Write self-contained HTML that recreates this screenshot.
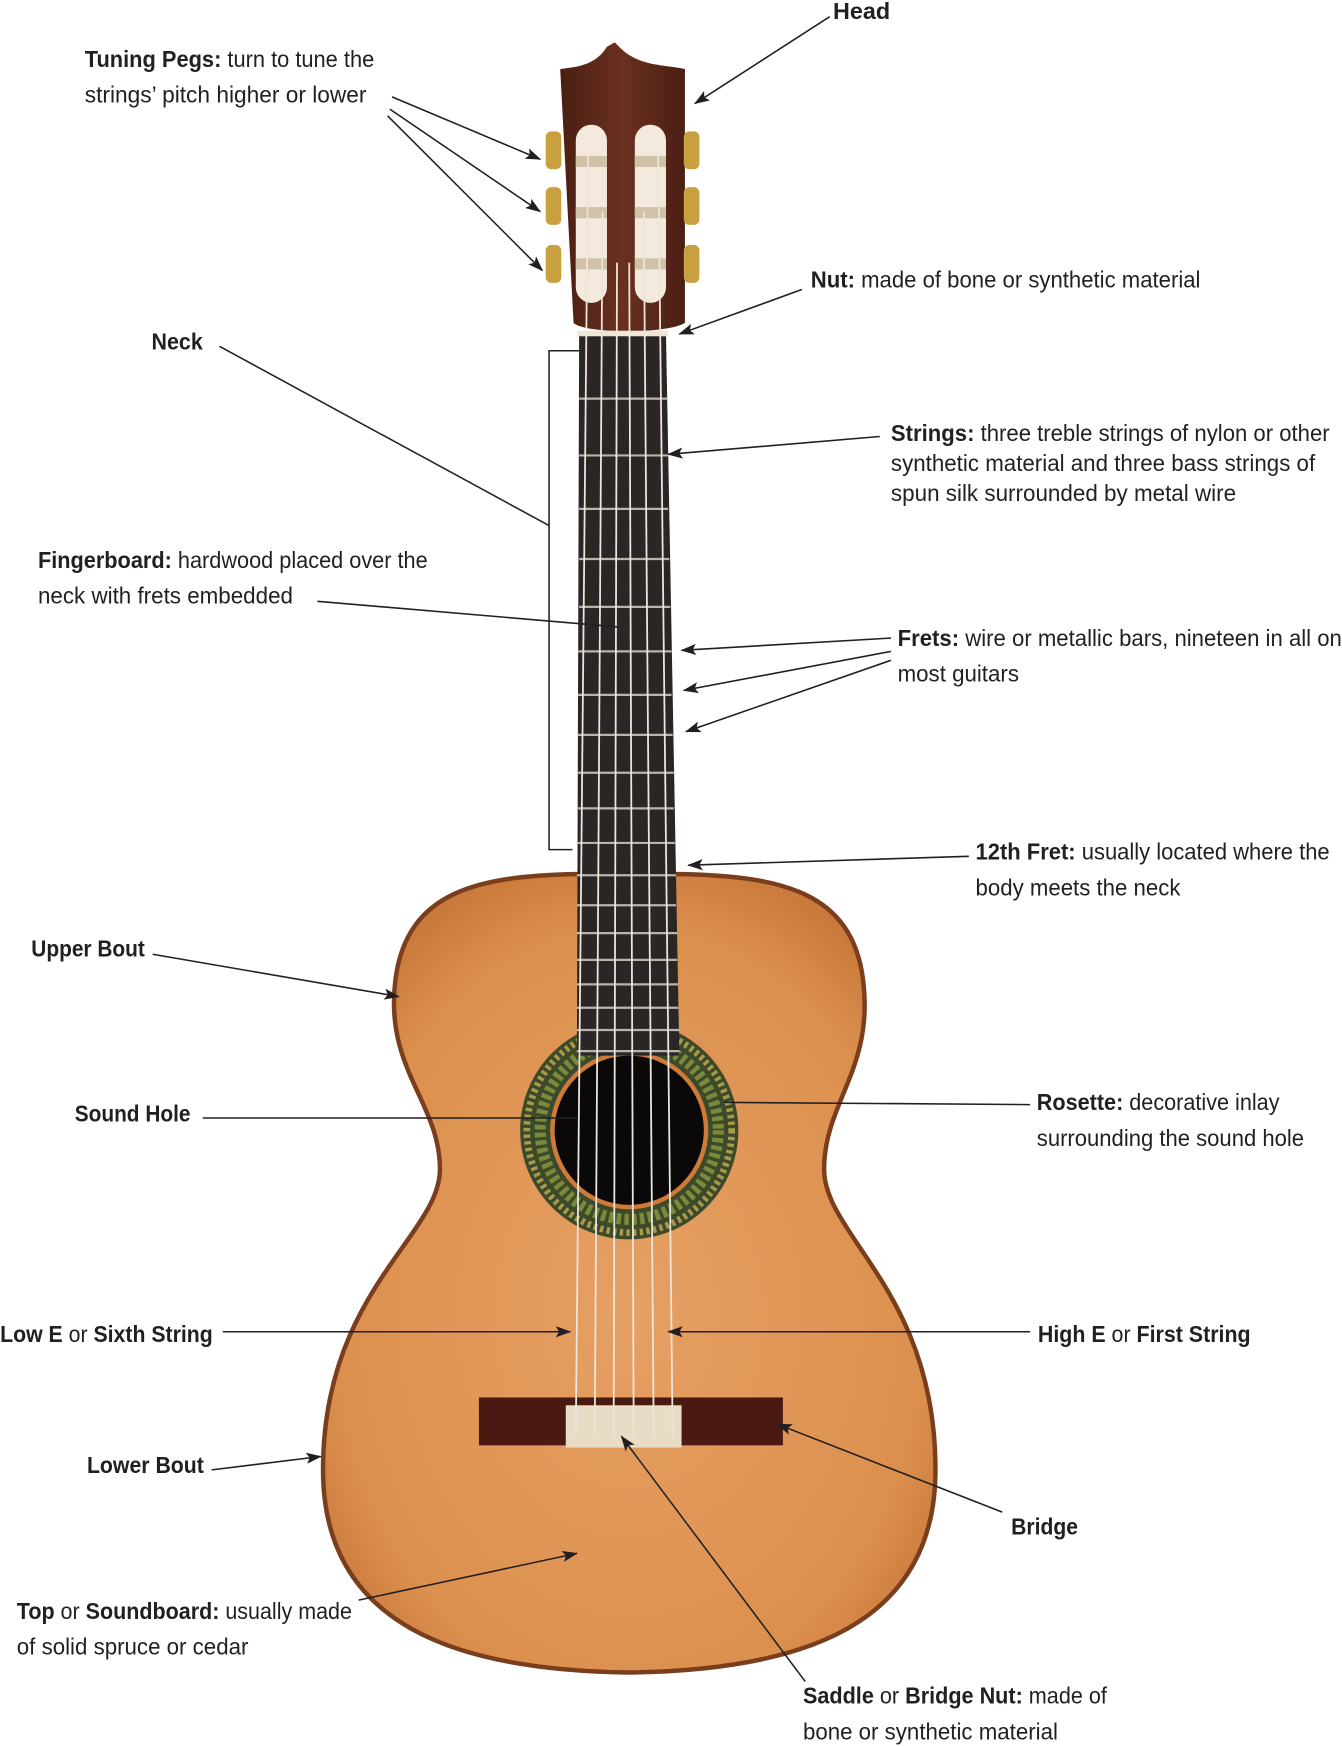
<!DOCTYPE html>
<html><head><meta charset="utf-8"><style>
html,body{margin:0;padding:0;background:#fff;}
svg{display:block;}
text{font-family:"Liberation Sans",sans-serif;font-size:21px;fill:#231f20;}
.b{font-weight:bold;}
</style></head><body>
<svg width="1342" height="1746" viewBox="0 0 1205 1568" xmlns="http://www.w3.org/2000/svg">
<defs>
<marker id="a" markerWidth="14" markerHeight="10" refX="13" refY="5" orient="auto" markerUnits="userSpaceOnUse">
<path d="M0,0 L14,5 L0,10 L3,5 z" fill="#231f20"/></marker>
<radialGradient id="bodyg" cx="50%" cy="55%" r="60%">
<stop offset="0" stop-color="#e6a064"/><stop offset="0.8" stop-color="#dc904e"/><stop offset="1" stop-color="#c8783a"/></radialGradient>
<linearGradient id="headg" x1="0" x2="1"><stop offset="0" stop-color="#4a1f12"/><stop offset="0.5" stop-color="#6a3020"/><stop offset="1" stop-color="#4a1f12"/></linearGradient>
</defs>

<path d="M515,785 L612,785 C700,787 765,800 775,880 C785,960 740,990 740,1050 C740,1110 840,1160 840,1320 C840,1460 720,1500 565,1502 C410,1500 290,1460 290,1320 C290,1160 395,1110 395,1050 C395,990 345,960 355,880 C365,800 430,787 515,785 Z" fill="url(#bodyg)" stroke="#7a3e1c" stroke-width="4"/>
<circle cx="565" cy="1015" r="98" fill="#3d4a2a"/>
<circle cx="565" cy="1015" r="92" fill="none" stroke="#a89a4a" stroke-width="6" stroke-dasharray="3 3"/>
<circle cx="565" cy="1015" r="80" fill="none" stroke="#7a8a3a" stroke-width="10" stroke-dasharray="4 3"/>
<circle cx="565" cy="1015" r="71" fill="#d07a3a"/>
<circle cx="565" cy="1015" r="67" fill="#0a0808"/>

<path d="M503,62 C520,60 535,58 545,42 L552,38 L558,44 C575,60 598,58 615,62 L615,290 C600,300 525,300 515,290 Z" fill="url(#headg)"/>
<rect x="517" y="112" width="28" height="160" rx="14" fill="#f3e9dc"/>
<rect x="570" y="112" width="28" height="160" rx="14" fill="#f3e9dc"/>
<g fill="#cfc2a8"><rect x="517" y="140" width="28" height="10"/><rect x="570" y="140" width="28" height="10"/>
<rect x="517" y="186" width="28" height="10"/><rect x="570" y="186" width="28" height="10"/>
<rect x="517" y="232" width="28" height="10"/><rect x="570" y="232" width="28" height="10"/></g>
<g fill="#c8a040"><rect x="490" y="118" width="14" height="34" rx="5"/><rect x="490" y="168" width="14" height="34" rx="5"/><rect x="490" y="220" width="14" height="34" rx="5"/>
<rect x="614" y="118" width="14" height="34" rx="5"/><rect x="614" y="168" width="14" height="34" rx="5"/><rect x="614" y="220" width="14" height="34" rx="5"/></g>
<path d="M520,300 L598,300 L610,948 L518,948 Z" fill="#2a2626"/>
<rect x="518" y="297" width="82" height="5" fill="#efe6d4"/>
<g stroke="#b9b4ac" stroke-width="2">
<line x1="520" y1="358" x2="599" y2="358"/><line x1="520" y1="409" x2="600" y2="409"/><line x1="520" y1="457" x2="600" y2="457"/><line x1="520" y1="502" x2="601" y2="502"/><line x1="520" y1="545" x2="602" y2="545"/><line x1="519" y1="585" x2="603" y2="585"/><line x1="519" y1="624" x2="603" y2="624"/><line x1="519" y1="660" x2="604" y2="660"/><line x1="519" y1="694" x2="605" y2="694"/><line x1="519" y1="726" x2="605" y2="726"/><line x1="518" y1="757" x2="606" y2="757"/><line x1="518" y1="786" x2="607" y2="786"/><line x1="518" y1="813" x2="607" y2="813"/><line x1="518" y1="838" x2="608" y2="838"/><line x1="518" y1="862" x2="608" y2="862"/><line x1="518" y1="884" x2="609" y2="884"/><line x1="518" y1="905" x2="609" y2="905"/><line x1="518" y1="925" x2="610" y2="925"/><line x1="518" y1="944" x2="610" y2="944"/>
</g>
<rect x="430" y="1255" width="273" height="43" fill="#4a1a12"/>
<rect x="508" y="1262" width="104" height="38" fill="#e8dcc4"/>
<g stroke="#ece6da" stroke-width="1.6">
<line x1="528" y1="140" x2="517" y2="1290"/><line x1="541" y1="190" x2="534" y2="1290"/><line x1="554" y1="236" x2="551" y2="1290"/>
<line x1="565" y1="236" x2="569" y2="1290"/><line x1="578" y1="190" x2="587" y2="1290"/><line x1="591" y1="140" x2="604" y2="1290"/></g>

<g stroke="#231f20" stroke-width="1.4" fill="none">
<line x1="745" y1="15" x2="624" y2="93" marker-end="url(#a)"/>
<line x1="352" y1="87" x2="485" y2="143" marker-end="url(#a)"/>
<line x1="350" y1="98" x2="485" y2="190" marker-end="url(#a)"/>
<line x1="348" y1="104" x2="487" y2="243" marker-end="url(#a)"/>
<line x1="720" y1="260" x2="610" y2="300" marker-end="url(#a)"/>
<line x1="197" y1="311" x2="493" y2="472"/>
<polyline points="520,315 493,315 493,763 514,763"/>
<line x1="790" y1="392" x2="600" y2="408" marker-end="url(#a)"/>
<line x1="285" y1="540" x2="555" y2="563"/>
<line x1="800" y1="573" x2="612" y2="584" marker-end="url(#a)"/>
<line x1="800" y1="585" x2="614" y2="620" marker-end="url(#a)"/>
<line x1="800" y1="593" x2="616" y2="657" marker-end="url(#a)"/>
<line x1="870" y1="769" x2="618" y2="777" marker-end="url(#a)"/>
<line x1="137" y1="857" x2="358" y2="895" marker-end="url(#a)"/>
<line x1="182" y1="1004" x2="518" y2="1004"/>
<line x1="925" y1="992" x2="650" y2="990"/>
<line x1="200" y1="1196" x2="512" y2="1196" marker-end="url(#a)"/>
<line x1="925" y1="1196" x2="600" y2="1196" marker-end="url(#a)"/>
<line x1="900" y1="1358" x2="698" y2="1279" marker-end="url(#a)"/>
<line x1="190" y1="1320" x2="288" y2="1308" marker-end="url(#a)"/>
<line x1="322" y1="1437" x2="518" y2="1395" marker-end="url(#a)"/>
<line x1="723" y1="1510" x2="558" y2="1290" marker-end="url(#a)"/>
</g>

<text x="748" y="17" class="b">Head</text>
<text x="76" y="60" textLength="260" lengthAdjust="spacingAndGlyphs"><tspan class="b">Tuning Pegs:</tspan> turn to tune the</text>
<text x="76" y="92" textLength="253" lengthAdjust="spacingAndGlyphs">strings’ pitch higher or lower</text>
<text x="728" y="258" textLength="350" lengthAdjust="spacingAndGlyphs"><tspan class="b">Nut:</tspan> made of bone or synthetic material</text>
<text x="136" y="314" class="b" textLength="46" lengthAdjust="spacingAndGlyphs">Neck</text>
<text x="800" y="396" textLength="394" lengthAdjust="spacingAndGlyphs"><tspan class="b">Strings:</tspan> three treble strings of nylon or other</text>
<text x="800" y="423" textLength="381" lengthAdjust="spacingAndGlyphs">synthetic material and three bass strings of</text>
<text x="800" y="450" textLength="310" lengthAdjust="spacingAndGlyphs">spun silk surrounded by metal wire</text>
<text x="34" y="510" textLength="350" lengthAdjust="spacingAndGlyphs"><tspan class="b">Fingerboard:</tspan> hardwood placed over the</text>
<text x="34" y="542" textLength="229" lengthAdjust="spacingAndGlyphs">neck with frets embedded</text>
<text x="806" y="580" textLength="399" lengthAdjust="spacingAndGlyphs"><tspan class="b">Frets:</tspan> wire or metallic bars, nineteen in all on</text>
<text x="806" y="612" textLength="109" lengthAdjust="spacingAndGlyphs">most guitars</text>
<text x="876" y="772" textLength="318" lengthAdjust="spacingAndGlyphs"><tspan class="b">12th Fret:</tspan> usually located where the</text>
<text x="876" y="804" textLength="184" lengthAdjust="spacingAndGlyphs">body meets the neck</text>
<text x="28" y="859" class="b" textLength="102" lengthAdjust="spacingAndGlyphs">Upper Bout</text>
<text x="67" y="1007" class="b" textLength="104" lengthAdjust="spacingAndGlyphs">Sound Hole</text>
<text x="931" y="997" textLength="218" lengthAdjust="spacingAndGlyphs"><tspan class="b">Rosette:</tspan> decorative inlay</text>
<text x="931" y="1029" textLength="240" lengthAdjust="spacingAndGlyphs">surrounding the sound hole</text>
<text x="0" y="1205" textLength="191" lengthAdjust="spacingAndGlyphs"><tspan class="b">Low E</tspan> or <tspan class="b">Sixth String</tspan></text>
<text x="932" y="1205" textLength="191" lengthAdjust="spacingAndGlyphs"><tspan class="b">High E</tspan> or <tspan class="b">First String</tspan></text>
<text x="78" y="1323" class="b" textLength="105" lengthAdjust="spacingAndGlyphs">Lower Bout</text>
<text x="908" y="1378" class="b" textLength="60" lengthAdjust="spacingAndGlyphs">Bridge</text>
<text x="15" y="1454" textLength="301" lengthAdjust="spacingAndGlyphs"><tspan class="b">Top</tspan> or <tspan class="b">Soundboard:</tspan> usually made</text>
<text x="15" y="1486" textLength="208" lengthAdjust="spacingAndGlyphs">of solid spruce or cedar</text>
<text x="721" y="1530" textLength="273" lengthAdjust="spacingAndGlyphs"><tspan class="b">Saddle</tspan> or <tspan class="b">Bridge Nut:</tspan> made of</text>
<text x="721" y="1562" textLength="229" lengthAdjust="spacingAndGlyphs">bone or synthetic material</text>
</svg>
</body></html>
